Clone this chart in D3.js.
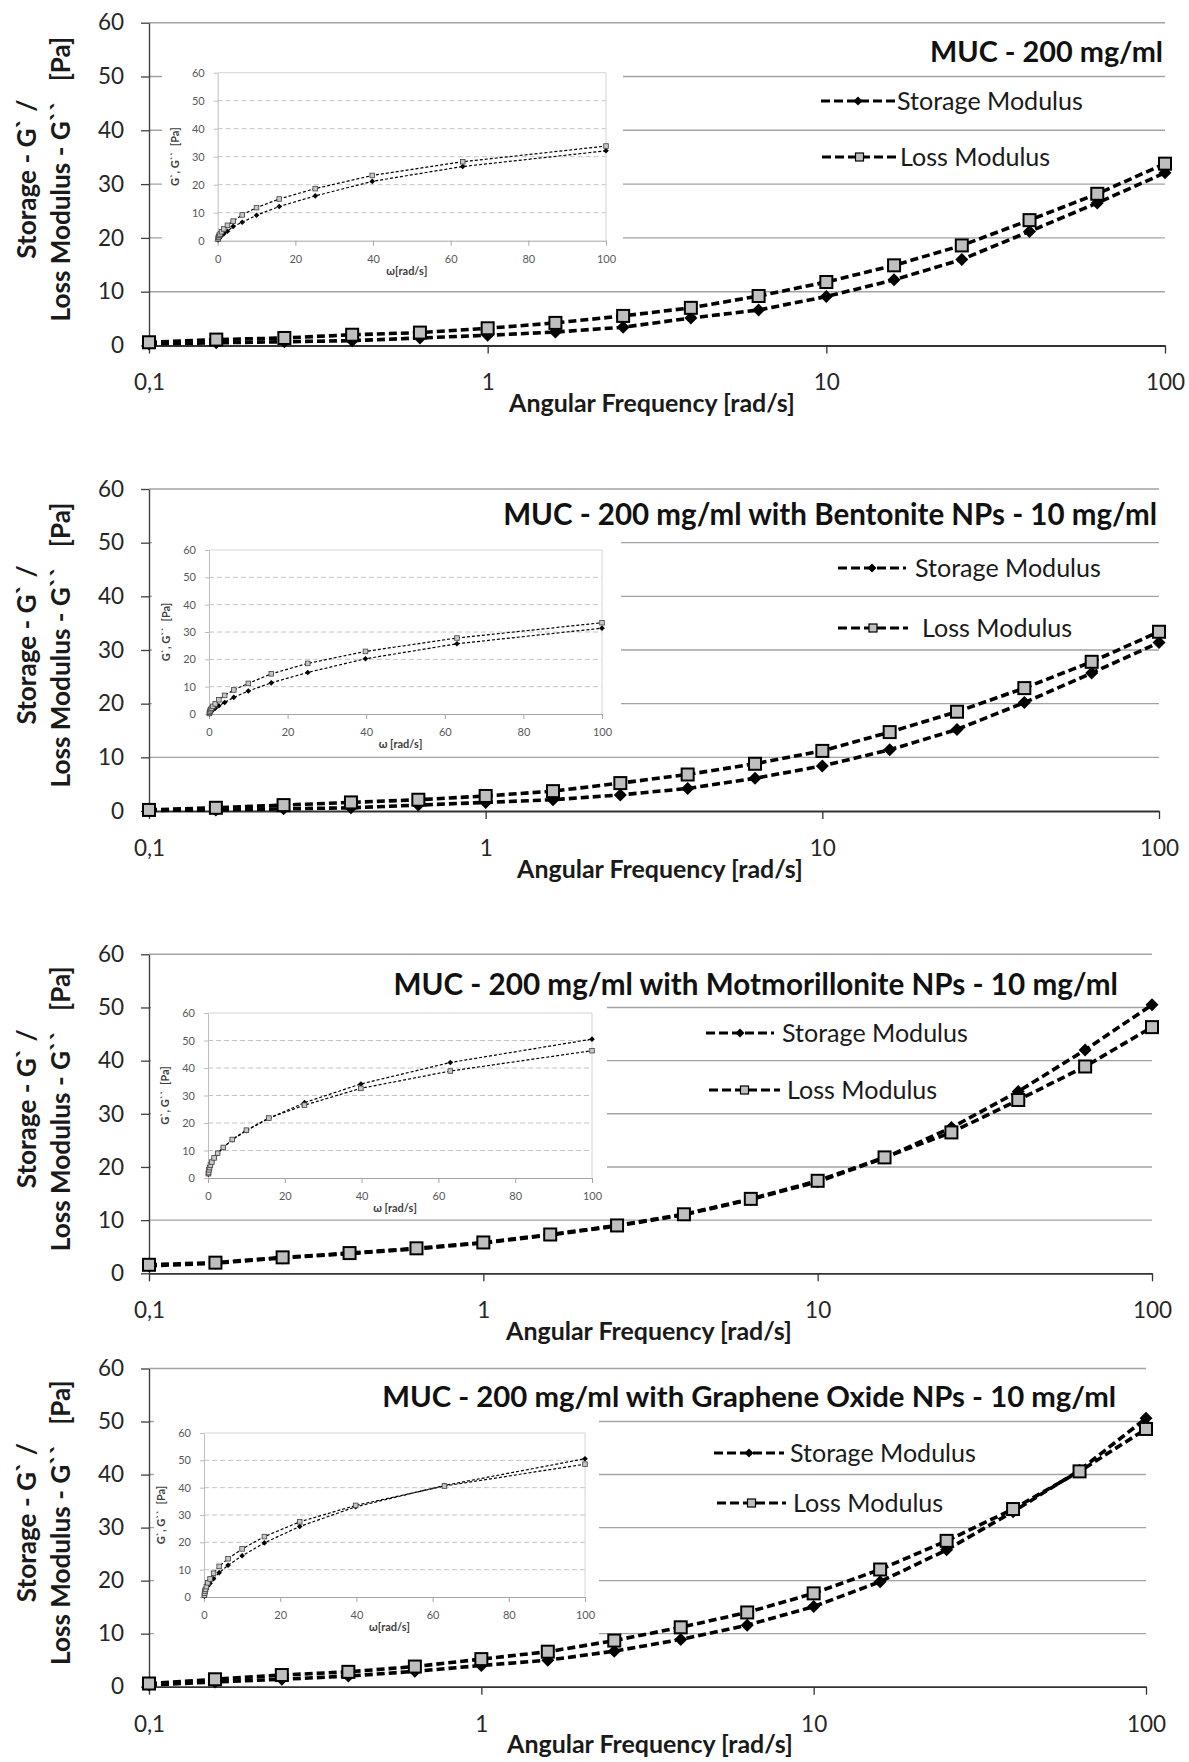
<!DOCTYPE html>
<html>
<head>
<meta charset="utf-8">
<script src="https://cdn.jsdelivr.net/npm/d3@7"></script>
<style>
  body { margin: 0; background: #fff; }
  text { font-family: Lato, 'Open Sans', sans-serif; }
</style>
</head>
<body>
<div id="chart"></div>
<script>
// angular frequency, rad/s (5 points per decade)
var freq = [0.1, 0.158, 0.251, 0.398, 0.631, 1, 1.585, 2.512, 3.981, 6.31, 10, 15.85, 25.12, 39.81, 63.1, 100];

// G' and G'' in Pa
var storageMuc = [0.3, 0.5, 0.7, 0.9, 1.4, 1.9, 2.5, 3.4, 5.1, 6.6, 9.1, 12.2, 16.0, 21.2, 26.5, 32.1];
var lossMuc    = [0.6, 1.1, 1.4, 2.0, 2.4, 3.2, 4.2, 5.5, 7.0, 9.2, 11.8, 14.9, 18.6, 23.3, 28.2, 33.8];

var storageBent = [0.1, 0.2, 0.4, 0.6, 1.1, 1.6, 2.1, 3.0, 4.2, 6.1, 8.4, 11.4, 15.2, 20.2, 25.7, 31.4];
var lossBent    = [0.2, 0.6, 1.1, 1.6, 2.1, 2.8, 3.7, 5.2, 6.8, 8.8, 11.2, 14.7, 18.5, 22.9, 27.8, 33.4];

var storageMont = [1.4, 1.9, 2.9, 3.7, 4.6, 5.7, 7.2, 8.9, 11.0, 13.9, 17.2, 21.7, 27.4, 34.2, 42.0, 50.5];
var lossMont    = [1.6, 2.0, 3.0, 3.8, 4.7, 5.8, 7.3, 9.0, 11.1, 14.0, 17.4, 21.8, 26.5, 32.6, 38.9, 46.3];

var storageGo = [0.3, 0.9, 1.4, 2.0, 2.9, 4.0, 5.0, 6.7, 8.9, 11.6, 15.1, 19.8, 25.8, 33.0, 40.8, 50.6];
var lossGo    = [0.6, 1.4, 2.2, 2.8, 3.8, 5.2, 6.6, 8.7, 11.2, 14.0, 17.6, 22.1, 27.5, 33.5, 40.6, 48.6];

var titles = [
  'MUC - 200 mg/ml',
  'MUC - 200 mg/ml with Bentonite NPs - 10 mg/ml',
  'MUC - 200 mg/ml with Motmorillonite NPs - 10 mg/ml',
  'MUC - 200 mg/ml with Graphene Oxide NPs - 10 mg/ml'
];
var seriesNames = ['Storage Modulus', 'Loss Modulus'];
var yTicks = [0, 10, 20, 30, 40, 50, 60];
var xTicks = [0.1, 1, 10, 100];
var xTickLabels = ['0,1', '1', '10', '100'];
var insetXTicks = [0, 20, 40, 60, 80, 100];
var insetXTitles = ['\u03c9[rad/s]', '\u03c9 [rad/s]', '\u03c9 [rad/s]', '\u03c9[rad/s]'];
var insetYTitle = 'G`, G``  [Pa]';
var yTitle1 = 'Storage - G` /';
var yTitle2 = 'Loss Modulus - G``   [Pa]';
var xTitle = 'Angular Frequency [rad/s]';

var data = [
  [storageMuc, lossMuc],
  [storageBent, lossBent],
  [storageMont, lossMont],
  [storageGo, lossGo]
];

// where each panel sits on the page
var layout = [
  {top: 22.7, bottom: 345.5, right: 1165, titleX: 1163, titleY: 52, titleW: 233, xTitleX: 652,
   leg: [{x1: 821, x2: 895, y: 101, tx: 897}, {x1: 822, x2: 897, y: 157, tx: 900}],
   inset: {l: 217.7, r: 606, t: 72.7, b: 240.7}, box: [162, 48, 623, 284]},
  {top: 489, bottom: 811, right: 1159, titleX: 1157, titleY: 515, titleW: 654, xTitleX: 660,
   leg: [{x1: 838, x2: 906, y: 568, tx: 915}, {x1: 838, x2: 908, y: 628, tx: 922}],
   inset: {l: 209, r: 602, t: 550, b: 714}, box: [152, 526, 621, 755]},
  {top: 954.3, bottom: 1273.3, right: 1152, titleX: 1118, titleY: 985, titleW: 725, xTitleX: 649,
   leg: [{x1: 706, x2: 774, y: 1033, tx: 782}, {x1: 709, x2: 780, y: 1090, tx: 787}],
   inset: {l: 208, r: 592, t: 1013, b: 1178}, box: [151, 992, 607, 1216]},
  {top: 1368.5, bottom: 1686.7, right: 1146, titleX: 1116, titleY: 1397, titleW: 734, xTitleX: 650,
   leg: [{x1: 714, x2: 784, y: 1453, tx: 790}, {x1: 717, x2: 786, y: 1503, tx: 793}],
   inset: {l: 204, r: 585, t: 1433, b: 1597}, box: [154, 1411, 599, 1640]}
];

var left = 149;

var svg = d3.select('#chart').append('svg')
    .attr('width', 1189)
    .attr('height', 1762);

svg.append('rect').attr('width', 1189).attr('height', 1762).attr('fill', '#fff');

function diamond(s) {
  return 'M0,' + (-s) + 'L' + s + ',0L0,' + s + 'L' + (-s) + ',0Z';
}

// shrink or grow a text's font so it spans the wanted width
function fitText(sel, target) {
  var len = sel.node().getComputedTextLength();
  var fs = parseFloat(sel.style('font-size'));
  var nf = fs * target / len;
  sel.style('font-size', nf + 'px');
  return nf;
}

var legendSize = null, yTitleSize = null, xTitleSize = null;

function drawPanel(i) {
  var L = layout[i];
  var g = svg.append('g');
  var x = d3.scaleLog().domain([0.1, 100]).range([left, L.right]);
  var y = d3.scaleLinear().domain([0, 60]).range([L.bottom, L.top]);

  // gridlines
  g.selectAll('.grid')
      .data(yTicks.slice(1))
    .enter().append('line')
      .attr('x1', left)
      .attr('x2', L.right)
      .attr('y1', function(d) { return y(d); })
      .attr('y2', function(d) { return y(d); })
      .attr('stroke', '#a3a3a3')
      .attr('stroke-width', 1.4);

  // y axis
  var yAxis = g.append('g')
      .attr('transform', 'translate(' + left + ',0)')
      .call(d3.axisLeft(y).tickValues(yTicks).tickSize(8).tickSizeOuter(0).tickPadding(17));
  yAxis.select('.domain').attr('stroke', '#404040').attr('stroke-width', 1.4);
  yAxis.selectAll('.tick line').attr('stroke', '#404040').attr('stroke-width', 1.3);
  yAxis.selectAll('.tick text')
      .style('font-family', 'Lato, sans-serif')
      .style('font-size', '22.5px')
      .attr('fill', '#262626');

  // inset chart area covers the main gridlines
  var b = L.box;
  g.append('rect')
      .attr('x', b[0]).attr('y', b[1])
      .attr('width', b[2] - b[0]).attr('height', b[3] - b[1])
      .attr('fill', '#fff');

  drawInset(g, i);

  // x axis
  var xAxis = g.append('g')
      .attr('transform', 'translate(0,' + L.bottom + ')')
      .call(d3.axisBottom(x).tickValues(xTicks).tickSize(8).tickSizeOuter(0)
        .tickFormat(function(d, k) { return xTickLabels[k]; }));
  xAxis.select('.domain').attr('stroke', '#333').attr('stroke-width', 1.8);
  xAxis.selectAll('.tick line').attr('stroke', '#333').attr('stroke-width', 1.3);
  xAxis.selectAll('.tick text')
      .attr('y', 37)
      .attr('dy', '0.35em')
      .style('font-family', 'Lato, sans-serif')
      .style('font-size', '22.5px')
      .attr('fill', '#262626');

  // axis titles
  var xt = g.append('text')
      .attr('x', L.xTitleX)
      .attr('y', L.bottom + 58)
      .attr('dy', '0.35em')
      .attr('text-anchor', 'middle')
      .style('font-weight', 700)
      .style('font-size', '22px')
      .attr('fill', '#1a1a1a')
      .text(xTitle);
  if (xTitleSize === null) xTitleSize = fitText(xt, 286);
  else xt.style('font-size', xTitleSize + 'px');

  var cy = (L.top + L.bottom) / 2 - 5;
  var yt2 = g.append('text')
      .attr('transform', 'translate(61,' + cy + ') rotate(-90)')
      .attr('text-anchor', 'middle')
      .attr('dy', '0.35em')
      .style('font-weight', 700)
      .style('font-size', '22px')
      .style('white-space', 'pre')
      .attr('fill', '#1a1a1a')
      .text(yTitle2);
  if (yTitleSize === null) yTitleSize = fitText(yt2, 285);
  else yt2.style('font-size', yTitleSize + 'px');
  g.append('text')
      .attr('transform', 'translate(27,' + cy + ') rotate(-90)')
      .attr('text-anchor', 'middle')
      .attr('dy', '0.35em')
      .style('font-weight', 700)
      .style('font-size', yTitleSize + 'px')
      .style('white-space', 'pre')
      .attr('fill', '#1a1a1a')
      .text(yTitle1);

  // chart title
  var tt = g.append('text')
      .attr('x', L.titleX)
      .attr('y', L.titleY)
      .attr('dy', '0.35em')
      .attr('text-anchor', 'end')
      .style('font-weight', 700)
      .style('font-size', '27px')
      .attr('fill', '#111')
      .text(titles[i]);
  fitText(tt, L.titleW);

  // legend
  L.leg.forEach(function(l, k) {
    g.append('line')
        .attr('x1', l.x1).attr('x2', l.x2)
        .attr('y1', l.y).attr('y2', l.y)
        .attr('stroke', '#000')
        .attr('stroke-width', 3)
        .attr('stroke-dasharray', '9,4');
    var mx = (l.x1 + l.x2) / 2;
    if (k === 0) {
      g.append('path').attr('d', diamond(4.5))
          .attr('transform', 'translate(' + mx + ',' + l.y + ')')
          .attr('fill', '#000');
    } else {
      g.append('rect')
          .attr('x', mx - 4).attr('y', l.y - 4)
          .attr('width', 8).attr('height', 8)
          .attr('fill', '#bfbfbf').attr('stroke', '#000').attr('stroke-width', 1.2);
    }
    var lt = g.append('text')
        .attr('x', l.tx)
        .attr('y', l.y)
        .attr('dy', '0.35em')
        .style('font-size', '24px')
        .attr('fill', '#1a1a1a')
        .text(seriesNames[k]);
    if (legendSize === null) legendSize = fitText(lt, 186);
    else lt.style('font-size', legendSize + 'px');
  });

  // the two series
  var line = d3.line()
      .x(function(d) { return x(d[0]); })
      .y(function(d) { return y(d[1]); });

  data[i].forEach(function(vals, k) {
    var pts = freq.map(function(f, j) { return [f, vals[j]]; });
    g.append('path')
        .datum(pts)
        .attr('d', line)
        .attr('fill', 'none')
        .attr('stroke', '#000')
        .attr('stroke-width', 3.6)
        .attr('stroke-dasharray', '8,4');
    if (k === 0) {
      g.selectAll('.dia' + i)
          .data(pts)
        .enter().append('path')
          .attr('d', diamond(6.5))
          .attr('transform', function(d) { return 'translate(' + x(d[0]) + ',' + y(d[1]) + ')'; })
          .attr('fill', '#000');
    } else {
      g.selectAll('.sq' + i)
          .data(pts)
        .enter().append('rect')
          .attr('x', function(d) { return x(d[0]) - 6; })
          .attr('y', function(d) { return y(d[1]) - 6; })
          .attr('width', 12)
          .attr('height', 12)
          .attr('fill', '#bfbfbf')
          .attr('stroke', '#000')
          .attr('stroke-width', 2);
    }
  });
}

function drawInset(g, i) {
  var P = layout[i].inset;
  var xi = d3.scaleLinear().domain([0, 100]).range([P.l, P.r]);
  var yi = d3.scaleLinear().domain([0, 60]).range([P.b, P.t]);

  // dashed gridlines
  g.selectAll('.igrid' + i)
      .data(yTicks.slice(1, 6))
    .enter().append('line')
      .attr('x1', P.l).attr('x2', P.r)
      .attr('y1', function(d) { return yi(d); })
      .attr('y2', function(d) { return yi(d); })
      .attr('stroke', '#c4c4c4')
      .attr('stroke-width', 1)
      .attr('stroke-dasharray', '5,3');

  // plot frame: top and right
  g.append('path')
      .attr('d', 'M' + P.l + ',' + P.t + 'H' + P.r + 'V' + P.b)
      .attr('fill', 'none')
      .attr('stroke', '#d4d4d4')
      .attr('stroke-width', 1);

  var ya = g.append('g')
      .attr('transform', 'translate(' + P.l + ',0)')
      .call(d3.axisLeft(yi).tickValues(yTicks).tickSize(4).tickSizeOuter(0).tickPadding(9));
  ya.select('.domain').attr('stroke', '#bdbdbd');
  ya.selectAll('.tick line').attr('stroke', '#bdbdbd');
  ya.selectAll('.tick text')
      .style('font-family', 'Lato, sans-serif')
      .style('font-size', '11px')
      .attr('fill', '#595959');

  var xa = g.append('g')
      .attr('transform', 'translate(0,' + P.b + ')')
      .call(d3.axisBottom(xi).tickValues(insetXTicks).tickSize(5).tickSizeOuter(0));
  xa.select('.domain').attr('stroke', '#a6a6a6');
  xa.selectAll('.tick line').attr('stroke', '#a6a6a6');
  xa.selectAll('.tick text')
      .attr('y', 18)
      .attr('dy', '0.35em')
      .style('font-family', 'Lato, sans-serif')
      .style('font-size', '11px')
      .attr('fill', '#595959');

  g.append('text')
      .attr('x', (P.l + P.r) / 2 - 5)
      .attr('y', P.b + 30)
      .attr('dy', '0.35em')
      .attr('text-anchor', 'middle')
      .style('font-weight', 700)
      .style('font-size', '11px')
      .attr('fill', '#404040')
      .text(insetXTitles[i]);

  g.append('text')
      .attr('transform', 'translate(' + (P.l - 43) + ',' + ((P.t + P.b) / 2) + ') rotate(-90)')
      .attr('text-anchor', 'middle')
      .attr('dy', '0.35em')
      .style('font-weight', 700)
      .style('font-size', '11px')
      .style('white-space', 'pre')
      .attr('fill', '#404040')
      .text(insetYTitle);

  var line = d3.line()
      .x(function(d) { return xi(d[0]); })
      .y(function(d) { return yi(d[1]); });

  data[i].forEach(function(vals, k) {
    var pts = freq.map(function(f, j) { return [f, vals[j]]; });
    g.append('path')
        .datum(pts)
        .attr('d', line)
        .attr('fill', 'none')
        .attr('stroke', '#000')
        .attr('stroke-width', 1.2)
        .attr('stroke-dasharray', '3,2');
    if (k === 0) {
      g.selectAll('.idia' + i)
          .data(pts)
        .enter().append('path')
          .attr('d', diamond(2.8))
          .attr('transform', function(d) { return 'translate(' + xi(d[0]) + ',' + yi(d[1]) + ')'; })
          .attr('fill', '#000');
    } else {
      g.selectAll('.isq' + i)
          .data(pts)
        .enter().append('rect')
          .attr('x', function(d) { return xi(d[0]) - 2.3; })
          .attr('y', function(d) { return yi(d[1]) - 2.3; })
          .attr('width', 4.6)
          .attr('height', 4.6)
          .attr('fill', '#c8c8c8')
          .attr('stroke', '#404040')
          .attr('stroke-width', 0.8);
    }
  });
}

for (var i = 0; i < layout.length; i++) drawPanel(i);
</script>
</body>
</html>
